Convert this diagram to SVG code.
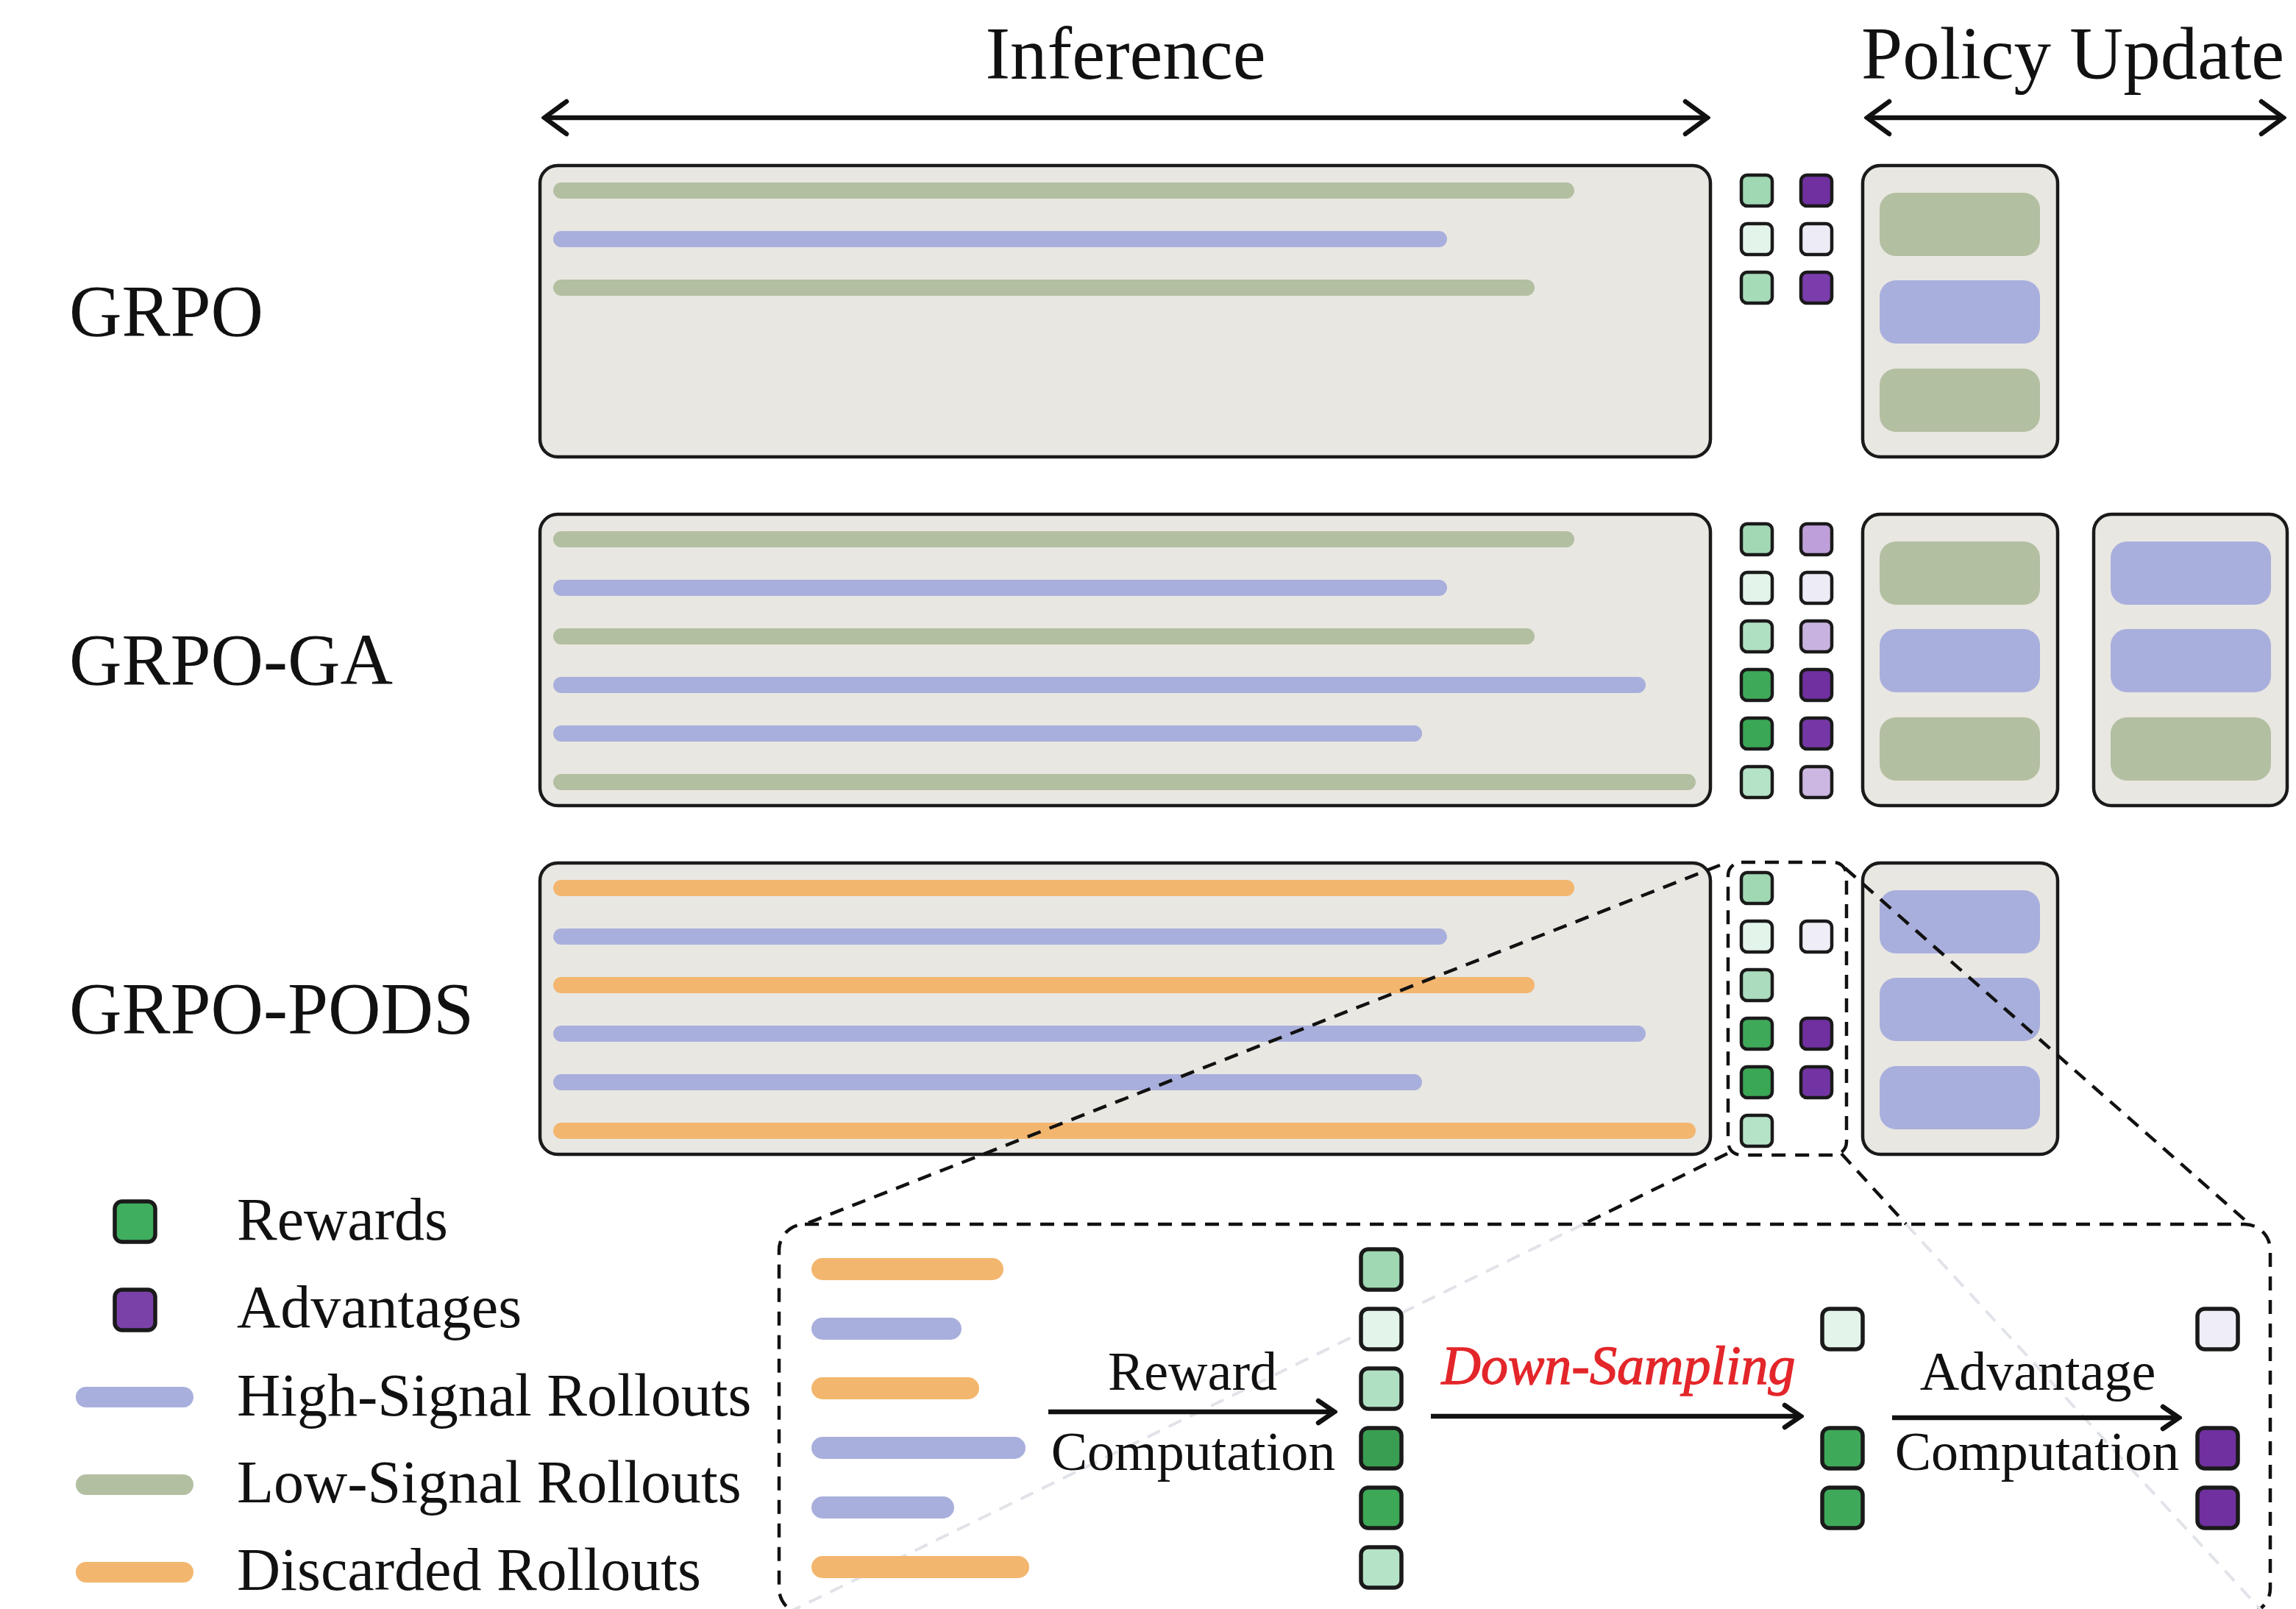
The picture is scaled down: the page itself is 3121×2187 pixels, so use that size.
<svg xmlns="http://www.w3.org/2000/svg" width="3121" height="2187" viewBox="0 0 3121 2187">
  <style>
    .box { fill: #e9e7e2; stroke: #1a1a1a; stroke-width: 4.5; }
    .lo { fill: #b3bfa1; }
    .hi { fill: #a9afdc; }
    .dis { fill: #f3b66e; }
    .sq { stroke: #1a1a1a; stroke-width: 4.5; }
    .sqL { stroke: #1a1a1a; stroke-width: 5.5; }
    .txt { font-family: "Liberation Serif", "Times New Roman", serif; fill: #111; }
    .title { font-size: 101px; }
    .row { font-size: 99px; }
    .leg { font-size: 82px; }
    .step { font-size: 74px; text-anchor: middle; }
    .ds { font-size: 74px; font-style: italic; fill: #e3262a; stroke: #e3262a; stroke-width: 1.3; }
    .dash { fill: none; stroke: #111; stroke-width: 4.5; stroke-dasharray: 19 13; }
    .faint { fill: none; stroke: #e1e3e9; stroke-width: 4; stroke-dasharray: 19 13; }
    .arr { fill: none; stroke: #111; stroke-width: 6.5; }
  </style>
  <defs>
    <marker id="chev" viewBox="-28 -20 32 40" refX="0" refY="0" markerWidth="32" markerHeight="40" markerUnits="userSpaceOnUse" orient="auto-start-reverse">
      <path d="M-22,-15 L0,0 L-22,15" fill="none" stroke="#111" stroke-width="6.5" stroke-linecap="round"/>
    </marker>
    <marker id="chevBig" viewBox="-36 -28 40 56" refX="0" refY="0" markerWidth="40" markerHeight="56" markerUnits="userSpaceOnUse" orient="auto-start-reverse">
      <path d="M-30,-22 L0,0 L-30,22" fill="none" stroke="#111" stroke-width="6.5" stroke-linecap="round"/>
    </marker>
  </defs>

  <rect width="3121" height="2187" fill="#ffffff"/>

  <!-- phase headings -->
  <g id="heading-inference">
    <text class="txt title" x="1530" y="107" text-anchor="middle">Inference</text>
  </g>
  <g id="heading-policy">
    <text class="txt title" x="2530" y="107">Policy Update</text>
  </g>

  <!-- row labels -->
  <g id="label-grpo"><text class="txt row" x="94" y="456">GRPO</text></g>
  <g id="label-grpo-ga"><text class="txt row" x="94" y="930">GRPO-GA</text></g>
  <g id="label-grpo-pods"><text class="txt row" x="94" y="1404">GRPO-PODS</text></g>

  <!-- GRPO -->
  <g id="grpo-inference">
    <rect class="box" x="734" y="225" width="1591" height="396" rx="24"/>
    <rect class="lo" x="752" y="248" width="1388" height="22" rx="11"/>
    <rect class="hi" x="752" y="314" width="1215" height="22" rx="11"/>
    <rect class="lo" x="752" y="380" width="1334" height="22" rx="11"/>
  </g>
  <g id="grpo-scores">
    <rect class="sq" x="2367" y="238" width="42" height="42" rx="8" fill="#9fd8b2"/>
    <rect class="sq" x="2367" y="304" width="42" height="42" rx="8" fill="#e3f4ea"/>
    <rect class="sq" x="2367" y="370" width="42" height="42" rx="8" fill="#a6dbb8"/>
    <rect class="sq" x="2448" y="238" width="42" height="42" rx="8" fill="#7030a0"/>
    <rect class="sq" x="2448" y="304" width="42" height="42" rx="8" fill="#ecebf6"/>
    <rect class="sq" x="2448" y="370" width="42" height="42" rx="8" fill="#7b3dab"/>
  </g>
  <g id="grpo-update">
    <rect class="box" x="2532" y="225" width="265" height="396" rx="24"/>
    <rect class="lo" x="2555" y="262" width="218" height="86" rx="22"/>
    <rect class="hi" x="2555" y="381" width="218" height="86" rx="22"/>
    <rect class="lo" x="2555" y="501" width="218" height="86" rx="22"/>
  </g>

  <!-- GRPO-GA -->
  <g id="grpo-ga-inference">
    <rect class="box" x="734" y="699" width="1591" height="396" rx="24"/>
    <rect class="lo" x="752" y="722" width="1388" height="22" rx="11"/>
    <rect class="hi" x="752" y="788" width="1215" height="22" rx="11"/>
    <rect class="lo" x="752" y="854" width="1334" height="22" rx="11"/>
    <rect class="hi" x="752" y="920" width="1485" height="22" rx="11"/>
    <rect class="hi" x="752" y="986" width="1181" height="22" rx="11"/>
    <rect class="lo" x="752" y="1052" width="1553" height="22" rx="11"/>
  </g>
  <g id="grpo-ga-scores">
    <rect class="sq" x="2367" y="712" width="42" height="42" rx="8" fill="#a2d9b4"/>
    <rect class="sq" x="2367" y="778" width="42" height="42" rx="8" fill="#e3f4ea"/>
    <rect class="sq" x="2367" y="844" width="42" height="42" rx="8" fill="#b0e0c2"/>
    <rect class="sq" x="2367" y="910" width="42" height="42" rx="8" fill="#3fa95a"/>
    <rect class="sq" x="2367" y="976" width="42" height="42" rx="8" fill="#3aa755"/>
    <rect class="sq" x="2367" y="1042" width="42" height="42" rx="8" fill="#b5e3c7"/>
    <rect class="sq" x="2448" y="712" width="42" height="42" rx="8" fill="#bf9fd9"/>
    <rect class="sq" x="2448" y="778" width="42" height="42" rx="8" fill="#ecebf6"/>
    <rect class="sq" x="2448" y="844" width="42" height="42" rx="8" fill="#c8b2df"/>
    <rect class="sq" x="2448" y="910" width="42" height="42" rx="8" fill="#7030a0"/>
    <rect class="sq" x="2448" y="976" width="42" height="42" rx="8" fill="#7637a6"/>
    <rect class="sq" x="2448" y="1042" width="42" height="42" rx="8" fill="#cbb7e2"/>
  </g>
  <g id="grpo-ga-update-1">
    <rect class="box" x="2532" y="699" width="265" height="396" rx="24"/>
    <rect class="lo" x="2555" y="736" width="218" height="86" rx="22"/>
    <rect class="hi" x="2555" y="855" width="218" height="86" rx="22"/>
    <rect class="lo" x="2555" y="975" width="218" height="86" rx="22"/>
  </g>
  <g id="grpo-ga-update-2">
    <rect class="box" x="2846" y="699" width="263" height="396" rx="24"/>
    <rect class="hi" x="2869" y="736" width="218" height="86" rx="22"/>
    <rect class="hi" x="2869" y="855" width="218" height="86" rx="22"/>
    <rect class="lo" x="2869" y="975" width="218" height="86" rx="22"/>
  </g>

  <!-- GRPO-PODS -->
  <g id="grpo-pods-inference">
    <rect class="box" x="734" y="1173" width="1591" height="396" rx="24"/>
    <rect class="dis" x="752" y="1196" width="1388" height="22" rx="11"/>
    <rect class="hi" x="752" y="1262" width="1215" height="22" rx="11"/>
    <rect class="dis" x="752" y="1328" width="1334" height="22" rx="11"/>
    <rect class="hi" x="752" y="1394" width="1485" height="22" rx="11"/>
    <rect class="hi" x="752" y="1460" width="1181" height="22" rx="11"/>
    <rect class="dis" x="752" y="1526" width="1553" height="22" rx="11"/>
  </g>
  <g id="grpo-pods-scores">
    <rect class="dash" x="2349" y="1172" width="161" height="398" rx="18"/>
    <rect class="sq" x="2367" y="1186" width="42" height="42" rx="8" fill="#a0d8b3"/>
    <rect class="sq" x="2367" y="1252" width="42" height="42" rx="8" fill="#e3f4ea"/>
    <rect class="sq" x="2367" y="1318" width="42" height="42" rx="8" fill="#aadcbd"/>
    <rect class="sq" x="2367" y="1384" width="42" height="42" rx="8" fill="#3fa95a"/>
    <rect class="sq" x="2367" y="1450" width="42" height="42" rx="8" fill="#3aa755"/>
    <rect class="sq" x="2367" y="1516" width="42" height="42" rx="8" fill="#b5e3c7"/>
    <rect class="sq" x="2448" y="1252" width="42" height="42" rx="8" fill="#efedf6"/>
    <rect class="sq" x="2448" y="1384" width="42" height="42" rx="8" fill="#7030a0"/>
    <rect class="sq" x="2448" y="1450" width="42" height="42" rx="8" fill="#7334a3"/>
  </g>
  <g id="grpo-pods-update">
    <rect class="box" x="2532" y="1173" width="265" height="396" rx="24"/>
    <rect class="hi" x="2555" y="1210" width="218" height="86" rx="22"/>
    <rect class="hi" x="2555" y="1329" width="218" height="86" rx="22"/>
    <rect class="hi" x="2555" y="1449" width="218" height="86" rx="22"/>
  </g>

  <!-- legend -->
  <g id="legend">
    <rect class="sqL" x="156" y="1633" width="55" height="55" rx="10" fill="#3fae5e"/>
    <text class="txt leg" x="322" y="1685">Rewards</text>
    <rect class="sqL" x="156" y="1753" width="55" height="55" rx="10" fill="#7a42a8"/>
    <text class="txt leg" x="322" y="1804">Advantages</text>
    <rect class="hi" x="103" y="1885" width="160" height="28" rx="14"/>
    <text class="txt leg" x="322" y="1924">High-Signal Rollouts</text>
    <rect class="lo" x="103" y="2004" width="160" height="28" rx="14"/>
    <text class="txt leg" x="322" y="2042">Low-Signal Rollouts</text>
    <rect class="dis" x="103" y="2123" width="160" height="28" rx="14"/>
    <text class="txt leg" x="322" y="2161">Discarded Rollouts</text>
  </g>

  <!-- enlarged view frame -->
  <g id="pods-detail-frame">
    <rect class="dash" x="1059" y="1664" width="2027" height="530" rx="35"/>
  </g>

  <g id="connectors">
    <!-- phase spans -->
    <line class="arr" x1="740" y1="160" x2="2321" y2="160" marker-start="url(#chevBig)" marker-end="url(#chevBig)"/>
    <line class="arr" x1="2538" y1="160" x2="3104" y2="160" marker-start="url(#chevBig)" marker-end="url(#chevBig)"/>
    <!-- zoom guides from the score column to the enlarged view -->
    <line class="dash" x1="2338" y1="1176" x2="1094" y2="1664"/>
    <line class="dash" x1="2508" y1="1180" x2="3058" y2="1664"/>
    <line class="dash" x1="2348" y1="1568" x2="2152" y2="1664"/>
    <line class="dash" x1="2503" y1="1568" x2="2591" y2="1664"/>
    <line class="faint" x1="2152" y1="1664" x2="1075" y2="2190"/>
    <line class="faint" x1="2591" y1="1664" x2="3075" y2="2190"/>
    <!-- processing steps -->
    <line class="arr" x1="1425" y1="1919" x2="1814" y2="1919" marker-end="url(#chev)"/>
    <line class="arr" x1="1945" y1="1925" x2="2448" y2="1925" marker-end="url(#chev)"/>
    <line class="arr" x1="2572" y1="1927" x2="2962" y2="1927" marker-end="url(#chev)"/>
  </g>

  <!-- enlarged view contents -->
  <g id="detail-rollouts">
    <rect class="dis" x="1103" y="1710" width="261" height="30" rx="15"/>
    <rect class="hi" x="1103" y="1791" width="204" height="30" rx="15"/>
    <rect class="dis" x="1103" y="1872" width="228" height="30" rx="15"/>
    <rect class="hi" x="1103" y="1953" width="291" height="30" rx="15"/>
    <rect class="hi" x="1103" y="2034" width="194" height="30" rx="15"/>
    <rect class="dis" x="1103" y="2115" width="296" height="30" rx="15"/>
  </g>
  <g id="detail-reward-label">
    <text class="txt step" x="1621" y="1889">Reward</text>
    <text class="txt step" x="1622" y="1998">Computation</text>
  </g>
  <g id="detail-rewards">
    <rect class="sqL" x="1850" y="1698" width="55" height="55" rx="10" fill="#9fd8b2"/>
    <rect class="sqL" x="1850" y="1779" width="55" height="55" rx="10" fill="#e3f4ea"/>
    <rect class="sqL" x="1850" y="1860" width="55" height="55" rx="10" fill="#b0e0c2"/>
    <rect class="sqL" x="1850" y="1941" width="55" height="55" rx="10" fill="#3a9e52"/>
    <rect class="sqL" x="1850" y="2022" width="55" height="55" rx="10" fill="#3da855"/>
    <rect class="sqL" x="1850" y="2103" width="55" height="55" rx="10" fill="#b5e3c7"/>
  </g>
  <g id="detail-downsampling-label">
    <text class="txt ds" x="2200" y="1881" text-anchor="middle">Down-Sampling</text>
  </g>
  <g id="detail-kept-rewards">
    <rect class="sqL" x="2477" y="1779" width="55" height="55" rx="10" fill="#e3f4ea"/>
    <rect class="sqL" x="2477" y="1941" width="55" height="55" rx="10" fill="#3fa95a"/>
    <rect class="sqL" x="2477" y="2022" width="55" height="55" rx="10" fill="#3fa95a"/>
  </g>
  <g id="detail-advantage-label">
    <text class="txt step" x="2770" y="1889">Advantage</text>
    <text class="txt step" x="2769" y="1998">Computation</text>
  </g>
  <g id="detail-advantages">
    <rect class="sqL" x="2987" y="1779" width="55" height="55" rx="10" fill="#efedf6"/>
    <rect class="sqL" x="2987" y="1941" width="55" height="55" rx="10" fill="#7030a0"/>
    <rect class="sqL" x="2987" y="2022" width="55" height="55" rx="10" fill="#7030a0"/>
  </g>
</svg>
